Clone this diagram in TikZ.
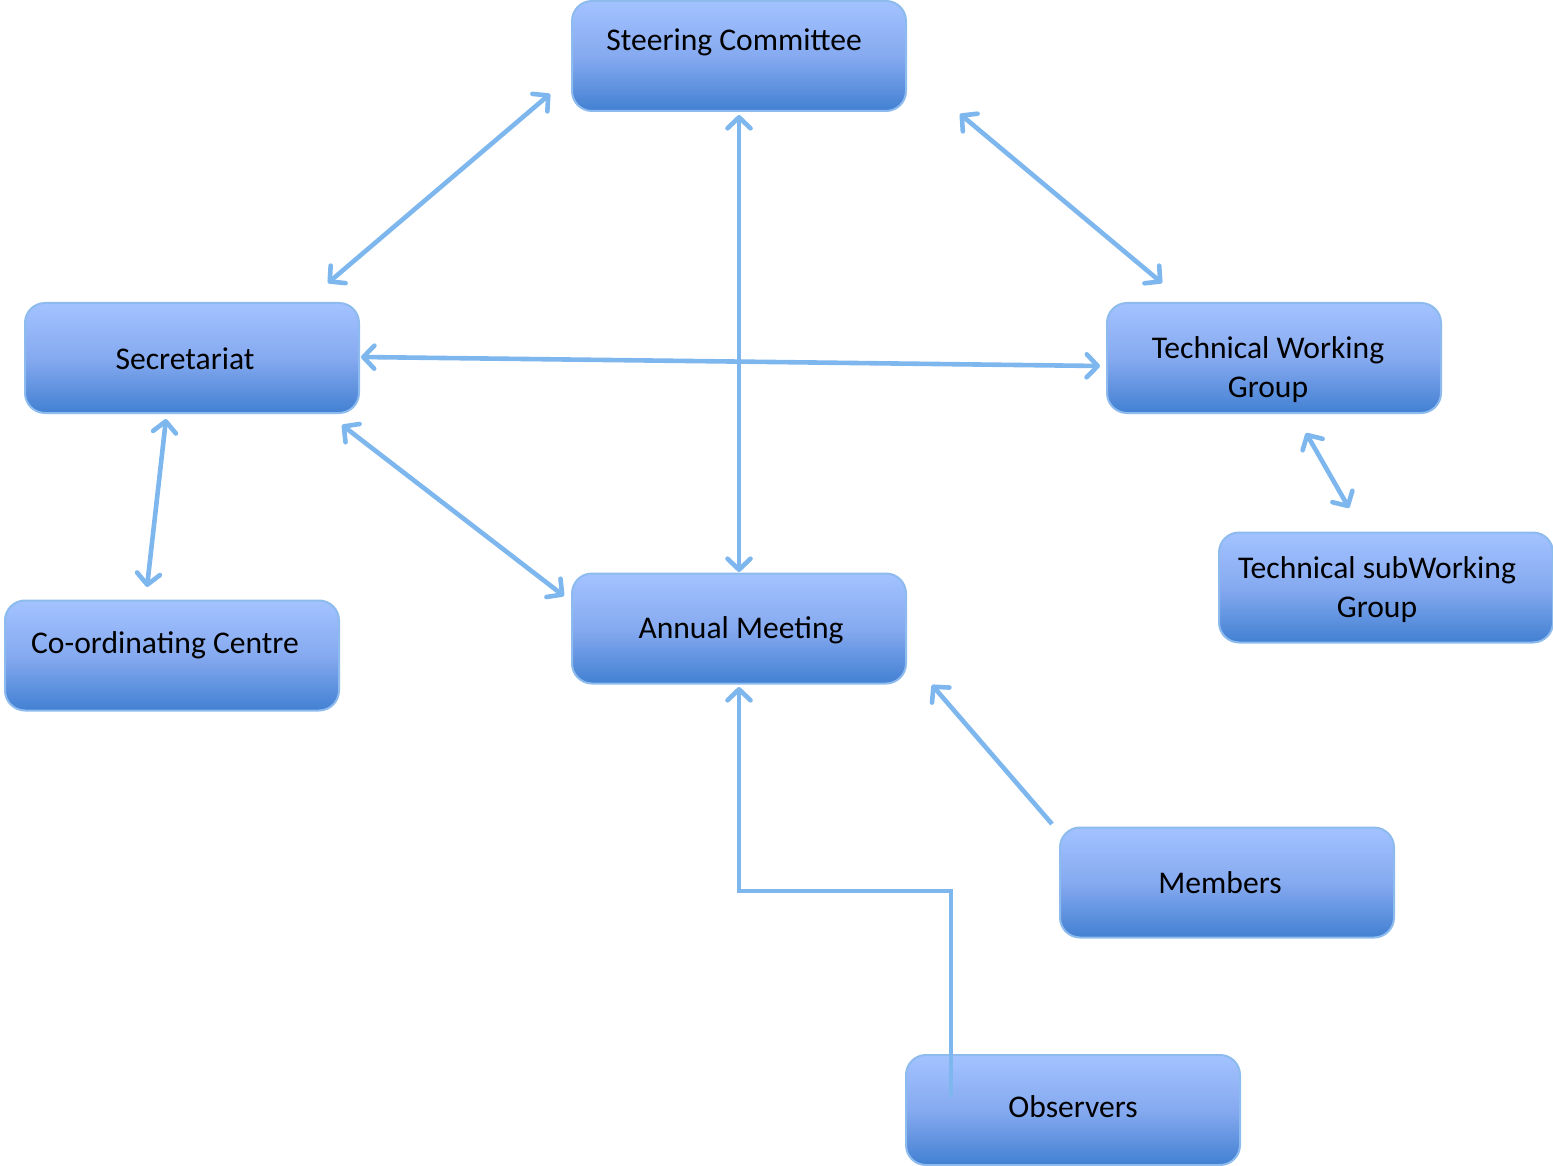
\documentclass[tikz,border=0pt]{standalone}
\usepackage{fontspec}
\setmainfont{Carlito}
\usetikzlibrary{arrows.meta}
\definecolor{arrowc}{HTML}{7EB6EE}
\definecolor{boxtop}{HTML}{A3C2FF}
\definecolor{boxmid}{HTML}{86AAF0}
\definecolor{boxbot}{HTML}{4280D2}
\definecolor{boxline}{HTML}{8DBBEE}
\tikzset{
  box/.style={rounded corners=10pt, minimum width=167pt, minimum height=55pt, inner sep=0pt,
    draw=boxline, line width=1pt, top color=boxtop, bottom color=boxbot, middle color=boxmid},
  lbl/.style={font=\fontsize{15.8}{19.5}\selectfont, align=center, inner sep=0pt},
  conn/.style={draw=arrowc, line width=2.3pt},
  both/.style={conn, {Straight Barb[length=5.5pt,width=11.5pt,line width=0pt 1,round]}-{Straight Barb[length=5.5pt,width=11.5pt,line width=0pt 1,round]}},
  one/.style={conn, -{Straight Barb[length=5.5pt,width=11.5pt,line width=0pt 1,round]}}
}
\begin{document}
\begin{tikzpicture}[x=0.5pt,y=-0.5pt]
\useasboundingbox (0,0) rectangle (1553,1166);
\node[box] (sc) at (739,56) {};
\node[box] (sec) at (192,358) {};
\node[box] (twg) at (1274,358) {};
\node[box] (tswg) at (1386,587.5) {};
\node[box] (cc) at (172,655.5) {};
\node[box] (am) at (739,628.5) {};
\node[box] (mem) at (1227,882.5) {};
\node[box] (obs) at (1073,1110) {};
\node[lbl] (tsc) at (734,42.5) {Steering Committee};
\node[lbl] (tsec) at (185,359) {Secretariat};
\node[lbl] (ttwg) at (1268,370) {Technical Working\\Group};
\node[lbl] (ttswg) at (1377,589.5) {Technical subWorking\\Group};
\node[lbl] (tcc) at (165,645.5) {Co-ordinating Centre};
\node[lbl] (tam) at (741,630.5) {Annual Meeting};
\node[lbl] (tmem) at (1220,883) {Members};
\node[lbl] (tobs) at (1073,1107) {Observers};
\draw[both] ([shift={(-189,38)}]sc.center) -- ([shift={(136,-75)}]sec.center);
\draw[both] ([shift={(0,59)}]sc.center) -- ([shift={(0,-56.5)}]am.center);
\draw[both] ([shift={(221,58)}]sc.center) -- ([shift={(-112,-75)}]twg.center);
\draw[both] ([shift={(169,-1)}]sec.center) -- ([shift={(-174,8)}]twg.center);
\draw[both] ([shift={(-26,61)}]sec.center) -- ([shift={(-25,-68.5)}]cc.center);
\draw[both] ([shift={(150,67)}]sec.center) -- ([shift={(-175,-32.5)}]am.center);
\draw[both] ([shift={(32,75)}]twg.center) -- ([shift={(-37,-79.5)}]tswg.center);
\draw[one] ([shift={(-175,-58.5)}]mem.center) -- ([shift={(193,56.5)}]am.center);
\draw[one] ([shift={(-122,-13)}]obs.center) -- ++(0,-206) -| ([shift={(0,58.5)}]am.center);
\end{tikzpicture}
\end{document}
